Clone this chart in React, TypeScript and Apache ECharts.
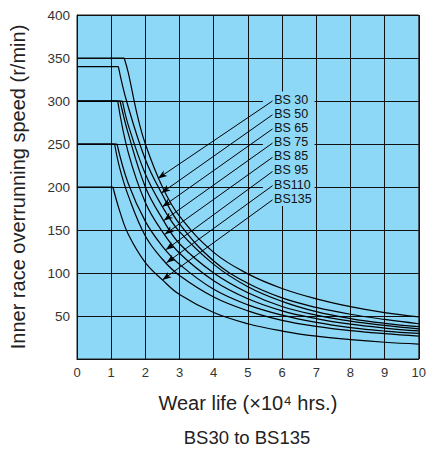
import React, { useEffect, useRef } from 'react';
import * as echarts from 'echarts';

// ---- data ----
const xTickValues = [0, 1, 2, 3, 4, 5, 6, 7, 8, 9, 10];
const yTickValues = [50, 100, 150, 200, 250, 300, 350, 400];

const curveNames = ['BS 30', 'BS 50', 'BS 65', 'BS 75', 'BS 85', 'BS 95', 'BS110', 'BS135'];

// [wear life (x10^4 hrs), inner race overrunning speed (r/min)]
const bs30 = [[0, 350], [1.38, 350], [1.5, 333], [1.75, 286], [2, 250], [2.5, 200], [3, 166], [4, 124], [5, 99], [6, 82], [7, 70], [8, 61], [9, 54], [10, 49]];
const bs50 = [[0, 340], [1.21, 340], [1.45, 300], [2, 232], [2.5, 191], [3, 157], [4, 114], [5, 88], [6, 71], [7, 60], [8, 52], [9, 46], [10, 41]];
const bs65 = [[0, 300], [1.33, 300], [1.5, 272], [2, 215], [2.5, 177], [3, 148], [4, 110], [5, 84], [6, 67], [7, 55], [8, 47], [9, 41.5], [10, 37.6]];
const bs75 = [[0, 300], [1.26, 300], [1.5, 262], [2, 200], [2.5, 163], [3, 134], [4, 100], [5, 77], [6, 61], [7, 51], [8, 44], [9, 39], [10, 35]];
const bs85 = [[0, 300], [1.19, 300], [1.5, 240], [2, 182], [2.5, 148], [3, 123], [4, 91], [5, 70], [6, 56], [7, 47], [8, 40.5], [9, 36], [10, 32.6]];
const bs95 = [[0, 250], [1.17, 250], [1.5, 204], [2, 160], [2.5, 131], [3, 110], [4, 81], [5, 63], [6, 51], [7, 42.5], [8, 36.5], [9, 32.5], [10, 29.8]];
const bs110 = [[0, 250], [1.1, 250], [1.25, 222], [1.5, 190], [2, 143], [2.5, 116], [3, 97], [4, 72], [5, 56], [6, 45], [7, 38], [8, 33], [9, 29.5], [10, 26.7]];
const bs135 = [[0, 200], [1.05, 200], [1.25, 172], [1.5, 145], [2, 112], [2.5, 92], [3, 75], [4, 54], [5, 41], [6, 32.5], [7, 26.5], [8, 22.5], [9, 19.5], [10, 17.4]];

const curves = [bs30, bs50, bs65, bs75, bs85, bs95, bs110, bs135];

// where each leader arrow touches its curve, and where its label sits
const arrowTips = [[2.37, 210], [2.47, 193], [2.5, 177], [2.54, 161], [2.57, 145], [2.6, 127], [2.62, 112], [2.5, 92]];
const labelAnchors = [[5.72, 300], [5.72, 284], [5.72, 267.5], [5.72, 251], [5.72, 234.5], [5.72, 218], [5.72, 201.5], [5.72, 185]];
const labelBox = [[5.44, 311], [6.95, 178]];

const FONT = 'Liberation Sans, Arial, Helvetica, sans-serif';
const BLUE = '#8dd7f7';

export default function App() {
  const ref = useRef<HTMLDivElement>(null);

  useEffect(() => {
    if (!ref.current) return;
    const chart = echarts.init(ref.current, null, { renderer: 'svg' });

    const series: any[] = [];
    curves.forEach((c, i) => {
      // horizontal (speed-limited) part
      series.push({
        type: 'line',
        name: curveNames[i] + ' max',
        data: c.slice(0, 2),
        showSymbol: false,
        symbol: 'none',
        lineStyle: { color: '#000', width: 1.2 },
        z: i === 7 ? 1 : 2,
        markArea: i === 7 ? {
          silent: true,
          itemStyle: { color: BLUE, opacity: 1 },
          data: [[{ coord: labelBox[0] }, { coord: labelBox[1] }]],
        } : undefined,
      });
      // wear-life curve
      series.push({
        type: 'line',
        name: curveNames[i],
        data: c.slice(1),
        smooth: 0.4,
        showSymbol: false,
        symbol: 'none',
        lineStyle: { color: '#000', width: 1.2 },
        z: 3,
        markLine: {
          silent: true,
          symbol: ['arrow', 'none'],
          symbolSize: [5, 9],
          lineStyle: { color: '#000', width: 1, type: 'solid' },
          label: {
            show: true,
            position: 'end',
            distance: 2,
            formatter: curveNames[i],
            color: '#111',
            fontSize: 12.5,
            lineHeight: 12,
            fontFamily: FONT,
          },
          emphasis: { disabled: true },
          data: [[{ coord: arrowTips[i] }, { coord: labelAnchors[i] }]],
        },
      });
    });

    chart.setOption({
      animation: false,
      grid: {
        left: 75, top: 15, width: 344, height: 344,
        show: true, backgroundColor: BLUE, borderColor: '#222', borderWidth: 1,
      },
      xAxis: {
        type: 'value', min: 0, max: 10, interval: 1,
        axisLine: { show: true, lineStyle: { color: '#111', width: 1 } },
        axisTick: { show: false },
        axisLabel: { color: '#333', fontSize: 13, fontFamily: FONT, margin: 7,
          formatter: (v: number) => (xTickValues.includes(v) ? String(v) : '') },
        splitLine: { show: true, lineStyle: { color: '#111', width: 1 } },
        name: 'Wear life (×10⁴ hrs.)',
        nameLocation: 'middle',
        nameGap: 34,
        nameTextStyle: { color: '#222', fontSize: 20, fontFamily: FONT },
      },
      yAxis: {
        type: 'value', min: 0, max: 400, interval: 50,
        axisLine: { show: true, lineStyle: { color: '#111', width: 1 } },
        axisTick: { show: false },
        axisLabel: { color: '#333', fontSize: 13.5, fontFamily: FONT, margin: 7,
          formatter: (v: number) => (yTickValues.includes(v) ? String(v) : '') },
        splitLine: { show: true, lineStyle: { color: '#111', width: 1 } },
        name: 'Inner race overrunning speed (r/min)',
        nameLocation: 'middle',
        nameGap: 49,
        nameTextStyle: { color: '#222', fontSize: 20, fontFamily: FONT },
      },
      graphic: [{
        type: 'text', x: 247, y: 437,
        style: { text: 'BS30 to BS135', fill: '#222', fontSize: 18.5, fontFamily: FONT,
          textAlign: 'center', textVerticalAlign: 'middle' },
      }],
      series,
    });

    return () => chart.dispose();
  }, []);

  return <div ref={ref} style={{ position: 'absolute', left: 0, top: 0, width: 429, height: 453 }} />;
}
